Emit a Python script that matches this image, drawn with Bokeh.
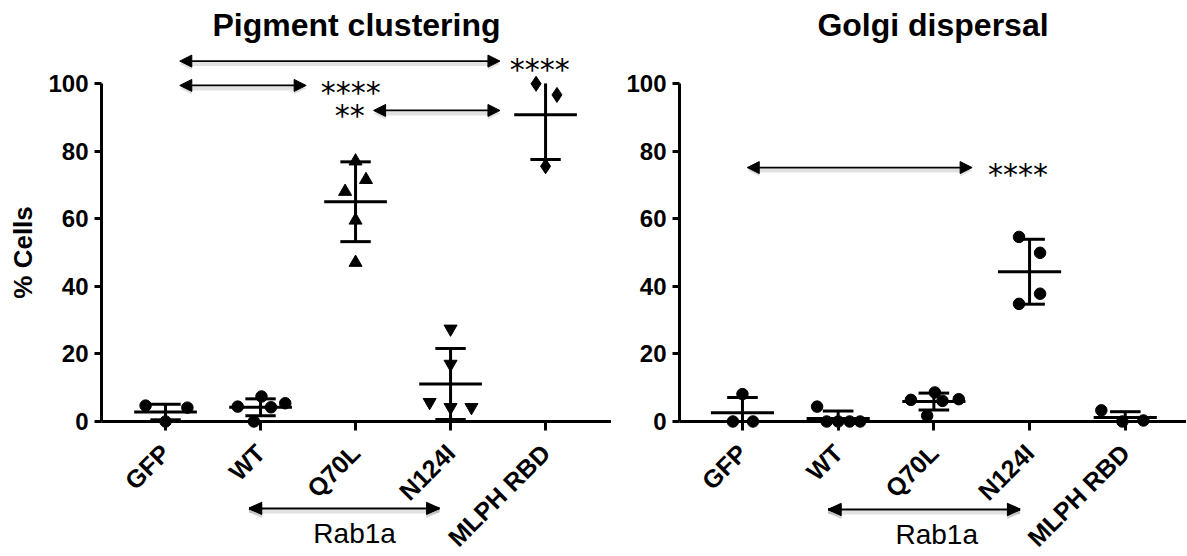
import numpy as np
from bokeh.plotting import figure
from bokeh.models import Range1d, FixedTicker, Arrow, NormalHead, Label
from bokeh.core.properties import value
from bokeh.layouts import row
from bokeh.embed import file_html
from bokeh.resources import INLINE

# ---------------- data ----------------
categories = ["GFP", "WT", "Q70L", "N124I", "MLPH RBD"]
y_ticks = [0, 20, 40, 60, 80, 100]
y_title = "% Cells"

# Pigment clustering (% cells)
pig_gfp = [4.7, 0.0, 4.1]
pig_wt = [4.4, 7.4, 4.2, 5.4, 0.0]
pig_q70l = [77.0, 71.5, 68.0, 59.5, 47.0]
pig_n124i = [27.4, 17.0, 5.7, 4.2, 4.2]
pig_mlph = [99.9, 96.6, 75.5]
pig_mean = [2.8, 4.2, 65.0, 11.1, 90.7]
pig_sd = [2.3, 2.5, 11.8, 10.5, 13.2]

# Golgi dispersal (% cells)
gol_gfp = [8.1, 0.0, 0.0]
gol_wt = [4.4, 0.0, 0.0, 0.0, 0.0]
gol_q70l = [6.4, 8.6, 6.1, 6.6, 1.7]
gol_n124i = [54.6, 49.9, 37.8, 34.8]
gol_mlph = [3.3, 0.0, 0.3]
gol_mean = [2.6, 0.9, 5.9, 44.3, 1.2]
gol_sd = [4.5, 2.2, 2.5, 9.6, 1.7]

# significance marks
pig_sig_labels = ["****", "****", "**"]
gol_sig_labels = ["****"]
group_label = "Rab1a"

# ---------------- layout / style ----------------
pig_jitter = [[-0.21, 0.0, 0.23], [-0.24, 0.01, 0.11, 0.26, -0.07],
              [0.0, 0.11, -0.11, 0.0, 0.0], [0.0, 0.0, -0.22, 0.0, 0.22],
              [-0.1, 0.12, 0.0]]
gol_jitter = [[0.0, -0.1, 0.11], [-0.22, -0.12, 0.0, 0.12, 0.23],
              [-0.24, 0.01, 0.09, 0.26, -0.07], [-0.11, 0.11, 0.11, -0.11],
              [-0.25, -0.03, 0.19]]
pig_markers = ["circle", "circle", "triangle", "inverted_triangle", "diamond"]
gol_markers = ["circle"] * 5
marker_sizes = {"circle": 11.5, "triangle": 13, "inverted_triangle": 13, "diamond": 15}

# arrows: (x_start, x_end, y) ; stars: (x, y_center)
pig_arrows = [(1.15, 4.52, 106.6), (1.15, 2.48, 99.4), (3.19, 4.52, 92.0)]
pig_stars = [(4.94, 105.3), (2.95, 98.7), (2.94, 91.7)]
gol_arrows = [(1.05, 3.40, 75.1)]
gol_stars = [(3.88, 74.3)]

FONT = "Liberation Sans"
PX_PER_UNIT_Y = 3.38
TEXT_SHIFT_PX = 10.5     # compensation for where the svg text baseline lands


def make_panel(title, groups, means, sds, markers, jitter, x_rng, y_rng,
               frame_w, border_left, ylabel, arrows, stars, star_labels,
               group_arrow, group_text, px_x):
    frame_h = int(round((y_rng[1] - y_rng[0]) * PX_PER_UNIT_Y))
    p = figure(title=title, frame_width=frame_w, frame_height=frame_h,
               x_range=Range1d(*x_rng), y_range=Range1d(*y_rng),
               output_backend="svg", toolbar_location=None,
               min_border_left=border_left, min_border_right=0,
               min_border_top=42, min_border_bottom=133)
    p.outline_line_color = None
    p.xgrid.visible = False
    p.ygrid.visible = False

    p.title.text_font = FONT
    p.title.text_font_size = "32px"
    p.title.text_font_style = "bold"
    p.title.text_color = "black"
    p.title.align = "center"
    p.title.standoff = 0

    xa = p.xaxis[0]
    xa.ticker = FixedTicker(ticks=[1, 2, 3, 4, 5])
    xa.major_label_overrides = {i + 1: c for i, c in enumerate(categories)}
    xa.axis_line_width = 3
    xa.major_tick_line_width = 3
    xa.major_tick_out = 9
    xa.major_tick_in = 0
    xa.minor_tick_line_color = None
    xa.major_label_orientation = np.pi / 4
    xa.major_label_text_font = FONT
    xa.major_label_text_font_size = "25px"
    xa.major_label_text_font_style = "bold"
    xa.major_label_text_color = "black"
    xa.major_label_standoff = 18

    ya = p.yaxis[0]
    ya.ticker = FixedTicker(ticks=y_ticks)
    ya.bounds = (0, 100)
    ya.axis_line_width = 3
    ya.major_tick_line_width = 3
    ya.major_tick_out = 7
    ya.major_tick_in = 0
    ya.minor_tick_line_color = None
    ya.major_label_text_font = FONT
    ya.major_label_text_font_size = "24px"
    ya.major_label_text_font_style = "bold"
    ya.major_label_text_color = "black"
    ya.major_label_standoff = 6

    # y title, centred on the 0-100 span of the axis (left of the frame)
    if ylabel:
        xl = 1 + (22.5 + TEXT_SHIFT_PX * 0 - 165) / px_x
        p.text([xl], [50], text=[ylabel], angle=np.pi / 2, text_align="center",
               text_baseline="alphabetic", text_font=value(FONT),
               text_font_size="26px", text_font_style="bold", text_color="black",
               level="overlay")

    # points (overlay level so that markers at 0 are not cut by the frame)
    for i, (vals, jit, mk) in enumerate(zip(groups, jitter, markers)):
        xs = [i + 1 + j for j in jit]
        p.scatter(xs, vals, marker=mk, size=marker_sizes[mk],
                  fill_color="black", line_color="black", level="overlay")

    # mean +/- SD (clipped to axis limits)
    xc = np.arange(1, 6)
    m = np.array(means)
    s = np.array(sds)
    lo = m - s
    hi = m + s
    p.segment(xc - 0.33, m, xc + 0.33, m, line_width=3, line_color="black",
              level="overlay")
    p.segment(xc, np.clip(lo, 0, 100), xc, np.clip(hi, 0, 100),
              line_width=3, line_color="black", level="overlay")
    ok_hi = hi <= 100
    p.segment(xc[ok_hi] - 0.16, hi[ok_hi], xc[ok_hi] + 0.16, hi[ok_hi],
              line_width=3, line_color="black", level="overlay")
    ok_lo = lo >= 0
    p.segment(xc[ok_lo] - 0.16, lo[ok_lo], xc[ok_lo] + 0.16, lo[ok_lo],
              line_width=3, line_color="black", level="overlay")

    sh = 3.0 / PX_PER_UNIT_Y

    def add_arrow(x0, x1, y, lw=1.8, hs=12):
        p.add_layout(Arrow(x_start=x0, y_start=y - sh, x_end=x1, y_end=y - sh,
                           line_color="#bdbdbd", line_alpha=0.45, line_width=4,
                           start=NormalHead(size=hs, fill_color="#bdbdbd", fill_alpha=0.45,
                                            line_color=None),
                           end=NormalHead(size=hs, fill_color="#bdbdbd", fill_alpha=0.45,
                                          line_color=None)))
        p.add_layout(Arrow(x_start=x0, y_start=y, x_end=x1, y_end=y,
                           line_color="black", line_width=lw,
                           start=NormalHead(size=hs, fill_color="black", line_color="black",
                                            line_width=1),
                           end=NormalHead(size=hs, fill_color="black", line_color="black",
                                          line_width=1)))

    for (x0, x1, y) in arrows:
        add_arrow(x0, x1, y)
    for (x, yc), txt in zip(stars, star_labels):
        p.add_layout(Label(x=x, y=yc - 4.5 / PX_PER_UNIT_Y, text=txt, text_align="center",
                           text_baseline="alphabetic", text_font="DejaVu Sans",
                           text_font_size="30px", text_color="black"))

    # group bracket below the axis: segments at overlay level (not frame-clipped)
    gx0, gx1, gy, tx, ty = group_arrow
    head_len = 13 / px_x
    fan = np.linspace(-6.0, 6.0, 13) / PX_PER_UNIT_Y

    def bracket(yy, color, alpha, lw):
        xs0, ys0, xs1, ys1 = [], [], [], []
        for tipx, d in ((gx0, 1), (gx1, -1)):
            for k in fan:
                xs0.append(tipx)
                ys0.append(yy)
                xs1.append(tipx + d * head_len)
                ys1.append(yy + k)
        p.segment(xs0, ys0, xs1, ys1, line_width=1.6, line_color=color,
                  line_alpha=alpha, level="overlay")
        p.segment([gx0 + head_len * 0.5], [yy], [gx1 - head_len * 0.5], [yy],
                  line_width=lw, line_color=color, line_alpha=alpha, level="overlay")

    bracket(gy - sh, "#bdbdbd", 0.45, 4)
    bracket(gy, "black", 1.0, 2)
    p.text([tx], [ty + TEXT_SHIFT_PX / PX_PER_UNIT_Y], text=[group_text],
           text_align="center", text_baseline="alphabetic", text_font=value(FONT),
           text_font_size="28px", text_color="black", level="overlay")
    return p


p1 = make_panel("Pigment clustering",
                [pig_gfp, pig_wt, pig_q70l, pig_n124i, pig_mlph],
                pig_mean, pig_sd, pig_markers, pig_jitter,
                (0.326, 5.694), (0.0, 112.1), 510, 101, y_title,
                pig_arrows, pig_stars, pig_sig_labels,
                (1.88, 3.88, -25.7, 2.99, -36.1), group_label, 95.0)

p2 = make_panel("Golgi dispersal",
                [gol_gfp, gol_wt, gol_q70l, gol_n124i, gol_mlph],
                gol_mean, gol_sd, gol_markers, gol_jitter,
                (0.342, 5.640), (0.0, 112.1), 507, 68, None,
                gol_arrows, gol_stars, gol_sig_labels,
                (1.90, 3.90, -26.0, 3.03, -36.4), group_label, 95.7)

layout = row(p1, p2)
open("out.html", "w").write(file_html(layout, INLINE))
